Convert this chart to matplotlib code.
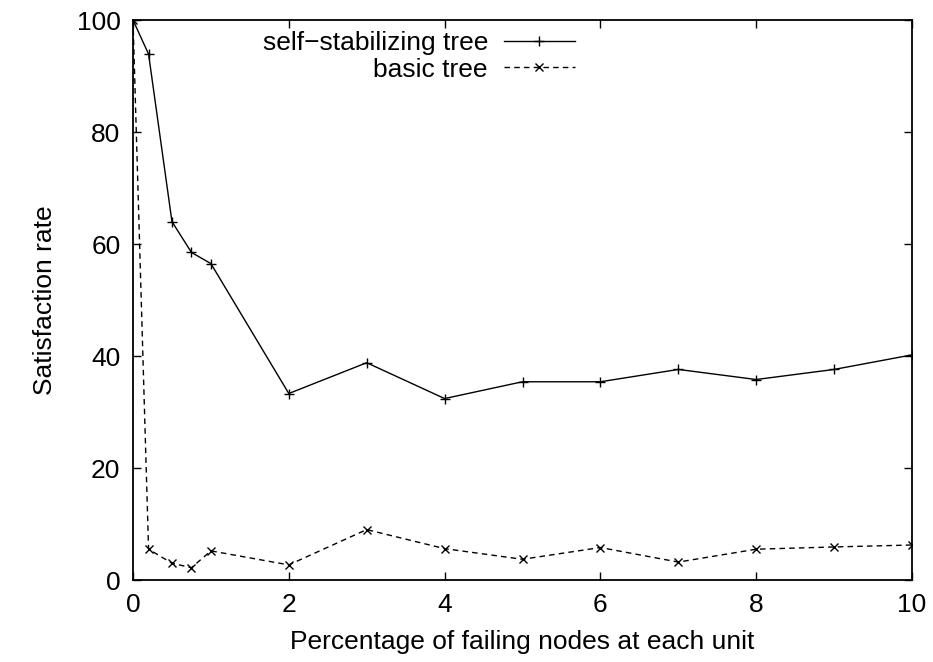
import matplotlib
matplotlib.use("Agg")
import matplotlib.pyplot as plt

plt.rcParams['font.family'] = ['Liberation Sans', 'DejaVu Sans']

x = [0, 0.2, 0.5, 0.75, 1, 2, 3, 4, 5, 6, 7, 8, 9, 10]
self_stab = [100, 93.9, 64.0, 58.5, 56.5, 33.3, 38.8, 32.4, 35.4, 35.4, 37.6, 35.8, 37.6, 40.2]
basic = [100, 5.5, 3.0, 2.2, 5.2, 2.7, 9.0, 5.6, 3.7, 5.8, 3.2, 5.5, 5.9, 6.25]

xticks = [0, 2, 4, 6, 8, 10]
yticks = [0, 20, 40, 60, 80, 100]

fs = 19

fig = plt.figure(figsize=(9.33, 6.62), dpi=100)
ax = fig.add_axes([133/933, 1 - 580/662, (912-133)/933, (580-20)/662])

ax.plot(x, self_stab, color='black', lw=1, marker='+', ms=6.5, mew=1,
        label='self\u2212stabilizing tree')
ax.plot(x, basic, color='black', lw=1, ls=(0, (4, 3)), marker='x', ms=5.5, mew=1,
        label='basic tree')

ax.set_xlim(0, 10)
ax.set_ylim(0, 100)
ax.set_xticks(xticks)
ax.set_yticks(yticks)
ax.tick_params(direction='in', top=True, right=True, length=6, width=1,
               labelsize=fs, pad=9)
for s in ax.spines.values():
    s.set_linewidth(1.3)

ax.set_xlabel('Percentage of failing nodes at each unit', fontsize=fs, labelpad=10)
ax.set_ylabel('Satisfaction rate', fontsize=fs, labelpad=14)

leg = ax.legend(loc='upper right', bbox_to_anchor=((575-133)/779, (580-31)/560),
                frameon=False, fontsize=fs, markerfirst=False, handlelength=2.7,
                handletextpad=0.6, labelspacing=0.1, borderaxespad=0,
                borderpad=0)
for t in leg.get_texts():
    t.set_ha('right')
leg._legend_box.align = 'right'

fig.savefig('out.png', dpi=100)
plt.close(fig)
